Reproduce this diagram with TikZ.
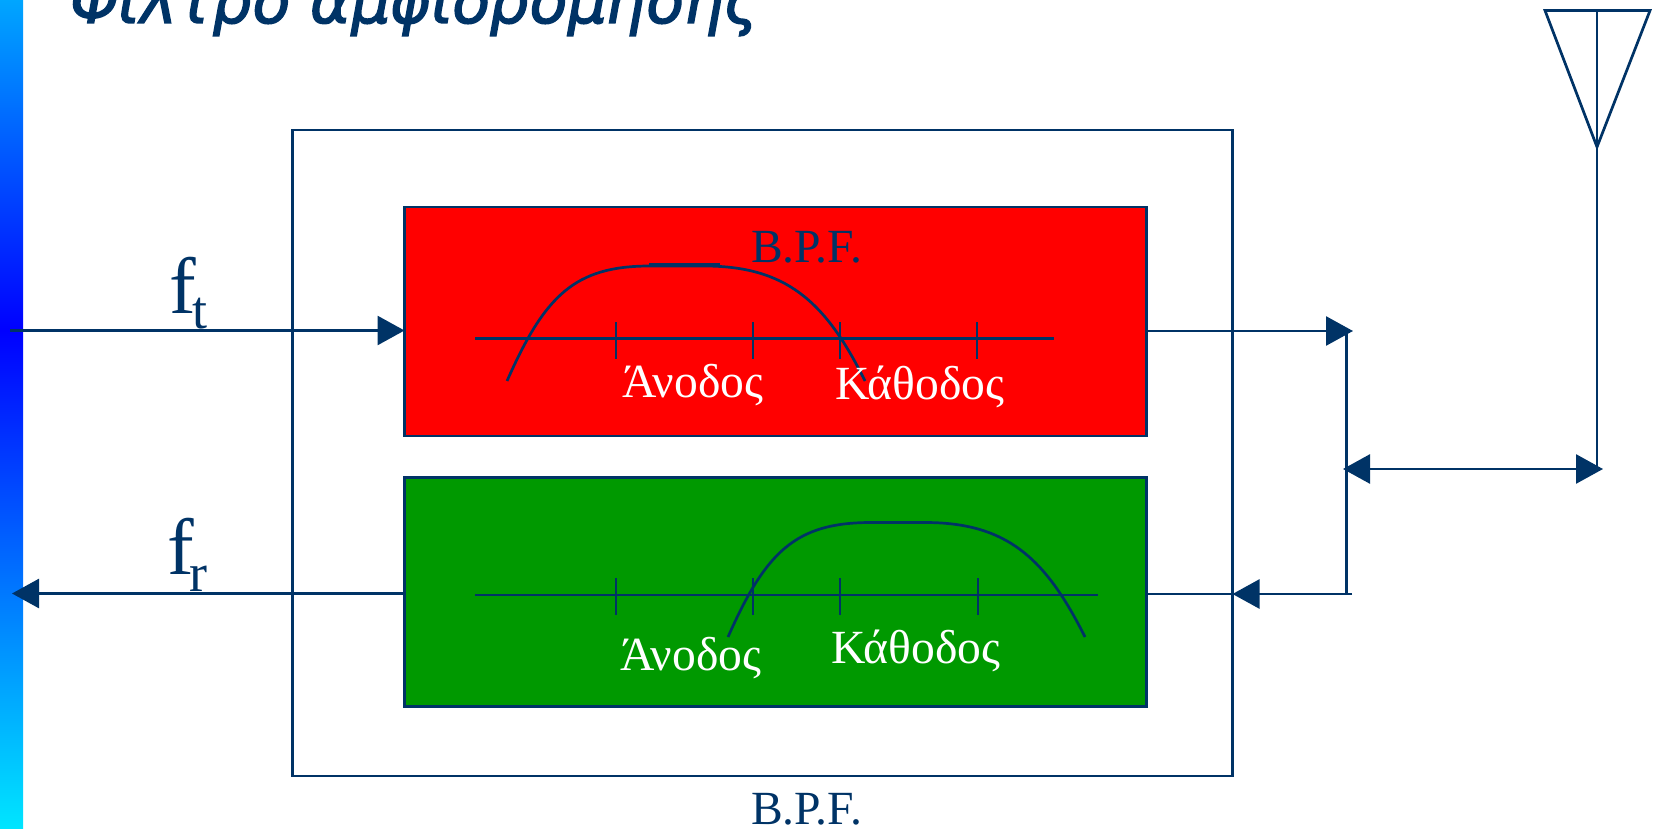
\documentclass[tikz,border=0pt]{standalone}
\usepackage{fontspec}
\setmainfont{Liberation Serif}
\newfontfamily\titlefont[FakeBold=2.2,FakeSlant=0.18]{DejaVu Sans}
\usetikzlibrary{arrows.meta}
\definecolor{navy}{HTML}{003366}
\definecolor{redfill}{HTML}{FF0000}
\definecolor{greenfill}{HTML}{009900}
\tikzset{
  wire/.style={draw=navy,line width=2.7pt},
  arrowwire/.style={wire,-{Triangle[length=27pt,width=29pt]}},
  dblwire/.style={wire,{Triangle[length=27pt,width=29pt]}-{Triangle[length=27pt,width=29pt]}},
  filterbox/.style={draw=navy,line width=2.8pt,minimum width=742pt,minimum height=229pt,inner sep=0pt,outer sep=0pt},
  lab/.style={inner sep=0pt,outer sep=0pt,anchor=base west,font=\fontsize{47.6}{50}\selectfont},
  biglab/.style={inner sep=0pt,anchor=base west,text=navy,font=\fontsize{80}{84}\selectfont},
  sublab/.style={inner sep=0pt,anchor=base west,text=navy,font=\fontsize{54}{58}\selectfont},
  tickmark/.style={wire,line width=2.4pt}
}
\begin{document}
\begin{tikzpicture}[x=1pt,y=-1pt]
\clip (0,0) rectangle (1653,829);
\fill[white] (0,0) rectangle (1653,829);
% gradient bar
\shade[top color=cyan!65!blue,bottom color=blue] (0,0) rectangle (23,330);
\shade[top color=blue,bottom color=cyan!90!blue] (0,330) rectangle (23,829);
% title
\node[inner sep=0pt,anchor=base west,text=navy,font=\titlefont\fontsize{62}{66}\selectfont] (title) at (66,23) {Φίλτρο αμφιδρόμησης};
% outer box
\node[draw=navy,line width=2.7pt,minimum width=940pt,minimum height=646pt,inner sep=0pt,outer sep=0pt] (outer) at (762.5,453) {};
% filters
\node[filterbox,fill=redfill] (red) at (775.5,321.5) {};
\node[filterbox,fill=greenfill] (green) at (775.5,592) {};
% red curve
\coordinate (ra0) at (475,338.5);\coordinate (ra1) at (1054,338.5);
\draw[wire] (ra0) -- (ra1);
\foreach \x/\n in {616/a,753/b,840/c,977/d}{
  \coordinate (rt\n u) at (\x,322);\coordinate (rt\n d) at (\x,359);
  \draw[tickmark] (rt\n u) -- (rt\n d);
}
\draw[wire] (507,381) .. controls (545,295) and (575,266) .. (650,266) -- (704,266) .. controls (785,266) and (825,300) .. (865,381);
\draw[wire,line width=3pt] (649,264.5) -- (720,264.5);
\node[lab,text=white] (ra) at (622,397) {Άνοδος};
\node[lab,text=white] (rk) at (835,399) {Κάθοδος};
\node[lab,text=navy] (bpf1) at (751,262) {B.P.F.};
% green curve
\coordinate (ga0) at (475,595);\coordinate (ga1) at (1098,595);
\draw[wire] (ga0) -- (ga1);
\foreach \x/\n in {616/a,753/b,840/c,978/d}{
  \coordinate (gt\n u) at (\x,578);\coordinate (gt\n d) at (\x,615);
  \draw[tickmark] (gt\n u) -- (gt\n d);
}
\draw[wire] (728,637) .. controls (766,551) and (796,522.5) .. (871,522.5) -- (925,522.5) .. controls (1006,522.5) and (1045,557) .. (1085,637);
\node[lab,text=white] (ga) at (620,670) {Άνοδος};
\node[lab,text=white] (gk) at (831,663) {Κάθοδος};
\node[lab,text=navy] (bpf2) at (751,824) {B.P.F.};
% signal labels
\node[biglab] (ft) at (169,313) {f};
\node[sublab] (fts) at (192,328) {t};
\node[biglab] (fr) at (167,574) {f};
\node[sublab] (frs) at (189.5,591) {r};
% connectors
\coordinate (inL) at (10,330.5);
\coordinate (outL) at (12,593.5);
\coordinate (topT) at (1353,331);
\coordinate (botJ) at (1352,594);
\coordinate (vT) at (1346.6,331);
\coordinate (vB) at (1346.6,594);
\coordinate (dL) at (1343,469);
\coordinate (dR) at (1603,469);
\coordinate (antB) at (1597,469);
\coordinate (antC) at (1597,147);
\coordinate (antT) at (1597,10.5);
\coordinate (antL) at (1545,10.5);
\coordinate (antR) at (1650,10.5);
\draw[arrowwire] (inL) -- (red.west |- inL);
\draw[arrowwire] (green.west |- outL) -- (outL);
\draw[arrowwire] (red.east |- topT) -- (topT);
\draw[wire] (green.east |- botJ) -- (outer.east |- botJ);
\draw[arrowwire] (botJ) -- (outer.east |- botJ);
\draw[wire] (vT) -- (vB);
\draw[dblwire] (dL) -- (dR);
\draw[wire] (antT) -- (antB);
\draw[wire,line join=miter] (antL) -- (antR) -- (antC) -- cycle;
\end{tikzpicture}
\end{document}
